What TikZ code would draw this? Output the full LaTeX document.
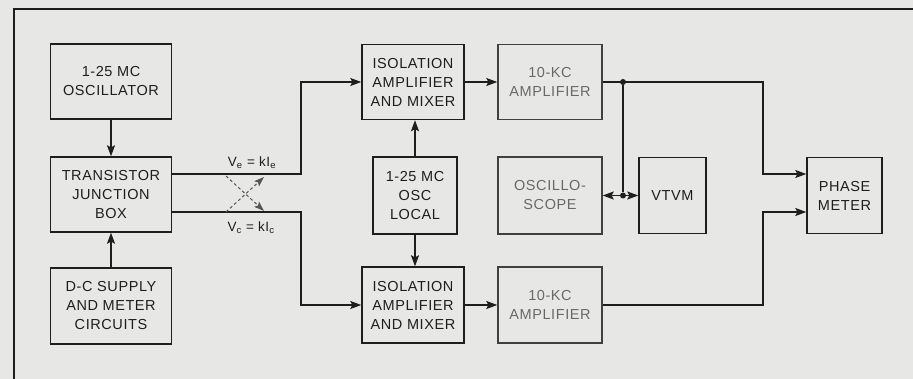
\documentclass[tikz,border=0pt]{standalone}
\usepackage{fontspec}
\setmainfont{Liberation Sans}[LetterSpace=4]
\usetikzlibrary{arrows.meta}
\definecolor{paper}{RGB}{231,231,229}
\definecolor{ink}{RGB}{30,30,30}
\definecolor{faded}{RGB}{105,105,105}
\tikzset{
  box/.style={draw=ink, line width=1.4pt, align=center, inner sep=0pt,
    font=\fontsize{14.5}{19}\selectfont, text=ink},
  fadebox/.style={box, text=faded, draw=ink!85},
  wire/.style={draw=ink, line width=1.3pt},
  arr/.style={wire, -{Stealth[length=11pt,width=8pt,inset=2pt]}},
  xarr/.style={draw=ink!75, line width=1pt, dash pattern=on 3pt off 2.5pt, -{Stealth[length=10pt,width=7pt,inset=2pt]}},
  lbl/.style={font=\fontsize{13.5}{15}\selectfont, text=ink, inner sep=0pt},
  dot/.style={circle, fill=ink, inner sep=0pt, minimum size=6pt}
}
\begin{document}
\begin{tikzpicture}[x=1pt,y=-1pt]
\fill[paper] (0,0) rectangle (913,379);
\useasboundingbox (0,0) rectangle (913,379);
% frame
\draw[ink, line width=1.3pt] (14,379) -- (14,9) -- (913,9);
% left column
\node[box, minimum width=121pt, minimum height=75pt] (osc) at (111,81.5) {1-25 MC\\OSCILLATOR};
\node[box, minimum width=121pt, minimum height=75pt] (tjb) at (111,194.5) {TRANSISTOR\\JUNCTION\\BOX};
\node[box, minimum width=121pt, minimum height=76pt] (dc) at (111,306) {D-C SUPPLY\\AND METER\\CIRCUITS};
% middle column
\node[box, minimum width=102pt, minimum height=75pt] (iso1) at (413,82) {ISOLATION\\AMPLIFIER\\AND MIXER};
\node[box, minimum width=84pt, minimum height=77pt] (lo) at (415,195.5) {1-25 MC\\OSC\\LOCAL};
\node[box, minimum width=102pt, minimum height=76pt] (iso2) at (413,305) {ISOLATION\\AMPLIFIER\\AND MIXER};
% amplifiers
\node[fadebox, minimum width=104pt, minimum height=75pt] (amp1) at (550,82) {10-KC\\AMPLIFIER};
\node[fadebox, minimum width=104pt, minimum height=77pt] (scope) at (550,195.5) {OSCILLO-\\SCOPE};
\node[fadebox, minimum width=104pt, minimum height=76pt] (amp2) at (550,305) {10-KC\\AMPLIFIER};
% right
\node[box, minimum width=67pt, minimum height=76pt] (vtvm) at (672.5,195.5) {VTVM};
\node[box, minimum width=75pt, minimum height=76pt] (pm) at (844.5,195.5) {PHASE\\METER};
% coordinates
\coordinate (be) at (301,174);
\coordinate (bc) at (301,212);
\coordinate (rv1) at (763,150);
\coordinate (rv2) at (763,250);
\node[dot] (j1) at (623,82) {};
\node[dot] (j2) at (623,195.5) {};
\coordinate (d1) at (226,176);
\coordinate (d2) at (264,211);
\coordinate (d3) at (226,212);
\coordinate (d4) at (264,177);
% connectors
\draw[arr] (osc.south) -- (tjb.north);
\draw[arr] (dc.north) -- (tjb.south);
\draw[arr] (tjb.east |- be) -- (be) |- (iso1.west);
\draw[arr] (tjb.east |- bc) -- (bc) |- (iso2.west);
\draw[arr] (lo.north) -- (iso1.south -| lo.north);
\draw[arr] (lo.south) -- (iso2.north -| lo.south);
\draw[arr] (iso1.east) -- (amp1.west);
\draw[arr] (iso2.east) -- (amp2.west);
\draw[arr] (amp1.east) -| (rv1) |- (pm.west |- be);
\draw[arr] (amp2.east) -| (rv2) |- (pm.west |- bc);
\draw[wire] (j1) -- (j2);
\draw[arr] (j2) -- (scope.east);
\draw[arr] (j2) -- (vtvm.west);
\draw[xarr] (d1) -- (d2);
\draw[xarr] (d3) -- (d4);
% labels
\node[lbl] (ve) at (252,163) {V\textsubscript{e} = kI\textsubscript{e}};
\node[lbl] (vc) at (251,228) {V\textsubscript{c} = kI\textsubscript{c}};
\end{tikzpicture}
\end{document}
